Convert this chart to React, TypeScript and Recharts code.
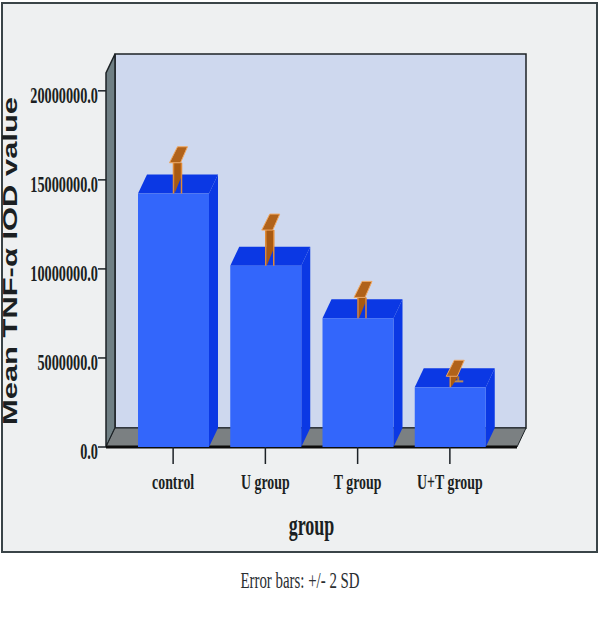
import { BarChart, Bar, XAxis, YAxis, ReferenceArea } from "recharts";

const groups = ["control", "U group", "T group", "U+T group"];
const means = [14230000, 10180000, 7230000, 3350000];
const twoSd = [1730000, 2000000, 1170000, 620000];
const yTicks = [0, 5000000, 10000000, 15000000, 20000000];

const data = groups.map((group, i) => ({ group, mean: means[i], err: twoSd[i] }));

const DX = 9;
const DY = 19;
const AXIS_PAD = 21;

const SERIF = "'Liberation Serif', serif";
const SANS = "'Liberation Sans', sans-serif";

function Walls({ x, y, width, height }: any) {
  // the x axis padding shrinks the area this shape gets, so widen it back
  const left = x - AXIS_PAD;
  const right = x + width + AXIS_PAD;
  const top = y;
  const bottom = y + height;
  return (
    <g>
      <rect x={left + DX} y={top - DY} width={right - left} height={height} fill="#ced8ee" stroke="#1c2226" strokeWidth={1.5} />
      <polygon
        points={`${left},${bottom} ${left},${top} ${left + DX},${top - DY} ${left + DX},${bottom - DY}`}
        fill="#6f7f84"
        stroke="#1c2226"
        strokeWidth={1.5}
      />
      <polygon
        points={`${left},${bottom} ${left + DX},${bottom - DY} ${right + DX},${bottom - DY} ${right},${bottom}`}
        fill="#7b8082"
        stroke="#1c2226"
        strokeWidth={1}
      />
      <line x1={left} x2={right} y1={bottom} y2={bottom} stroke="#0c0c0c" strokeWidth={3} />
    </g>
  );
}

function Bar3D({ x, y, width, height, payload }: any) {
  const pxPerUnit = height / payload.mean;
  const errPx = payload.err * pxPerUnit;
  const cx = x + width / 2;
  const capY = y - errPx;
  const lowY = y + errPx - DY + 2;
  return (
    <g>
      <polygon
        points={`${x},${y} ${x + DX},${y - DY} ${x + width + DX},${y - DY} ${x + width},${y}`}
        fill="#0b38e4"
      />
      <polygon
        points={`${x + width},${y} ${x + width + DX},${y - DY} ${x + width + DX},${y + height - DY} ${x + width},${y + height}`}
        fill="#0b38e4"
      />
      <rect x={x} y={y} width={width} height={height} fill="#3366fb" />
      {lowY < y && (
        <g>
          <line x1={cx + 8} x2={cx + 8} y1={capY} y2={lowY} stroke="#b0753a" strokeWidth={2} />
          <line x1={cx + 3} x2={cx + 13} y1={lowY} y2={lowY} stroke="#b98a58" strokeWidth={2} />
        </g>
      )}
      <polygon
        points={`${cx},${capY} ${cx + 8},${capY} ${cx + 8},${Math.max(capY, y - DY + 2)} ${cx + 1},${y}`}
        fill="#a85a12"
      />
      <line x1={cx} x2={cx} y1={capY} y2={y} stroke="#e08a35" strokeWidth={1.5} />
      {lowY >= y && <line x1={cx + 8} x2={cx + 8} y1={capY} y2={y} stroke="#e08a35" strokeWidth={1.5} />}
      <polygon
        points={`${cx - 4},${capY} ${cx + 7},${capY} ${cx + 14},${capY - DY + 3} ${cx + 4},${capY - DY + 3}`}
        fill="#b0621a"
        stroke="#f0a862"
        strokeWidth={1}
      />
    </g>
  );
}

function YTick({ x, y, payload }: any) {
  const label = payload.value === 0 ? "0.0" : payload.value.toFixed(1);
  return (
    <text
      transform={`translate(${x + 2},${y + 12}) scale(0.62,1)`}
      textAnchor="end"
      fontFamily={SERIF}
      fontWeight={700}
      fontSize={23}
      fill="#1b1f22"
    >
      {label}
    </text>
  );
}

function XTick({ x, y, payload }: any) {
  return (
    <text
      transform={`translate(${x},${y + 23}) scale(0.63,1)`}
      textAnchor="middle"
      fontFamily={SERIF}
      fontWeight={700}
      fontSize={22}
      fill="#1b1f22"
    >
      {payload.value}
    </text>
  );
}

function YLabel() {
  return (
    <text
      transform="translate(17,261) rotate(-90)"
      textAnchor="middle"
      fontFamily={SANS}
      fontWeight={700}
      fontSize={20}
      textLength={328}
      lengthAdjust="spacingAndGlyphs"
      fill="#1b1f22"
    >
      Mean TNF-α IOD value
    </text>
  );
}

function XLabel({ viewBox }: any) {
  return (
    <text
      transform={`translate(${viewBox.x + viewBox.width / 2},535) scale(0.62,1)`}
      textAnchor="middle"
      fontFamily={SERIF}
      fontWeight={700}
      fontSize={29}
      fill="#1b1f22"
    >
      group
    </text>
  );
}

export default function App() {
  return (
    <div style={{ position: "absolute", left: 0, top: 0, width: 600, height: 618, background: "#fff", overflow: "hidden" }}>
      <div
        style={{
          position: "absolute",
          left: 1,
          top: 2,
          width: 593,
          height: 547,
          background: "#eef0f1",
          border: "2px solid #3a4448",
        }}
      />
      <div style={{ position: "absolute", left: 0, top: 0 }}>
        <BarChart
          width={600}
          height={618}
          data={data}
          margin={{ top: 73, right: 83, bottom: 0, left: 0 }}
        >
          <ReferenceArea ifOverflow="visible" shape={<Walls />} />
          <XAxis
            dataKey="group"
            height={171}
            padding={{ left: AXIS_PAD, right: AXIS_PAD }}
            tickLine={{ stroke: "#1c2226", strokeWidth: 1.5 }}
            tickSize={17}
            axisLine={false}
            interval={0}
            tick={<XTick />}
            label={{ content: <XLabel /> }}
          />
          <YAxis
            width={106}
            domain={[0, 21000000]}
            ticks={yTicks}
            tickLine={{ stroke: "#1c2226", strokeWidth: 1.5 }}
            tickSize={8}
            axisLine={false}
            interval={0}
            tick={<YTick />}
            label={{ content: <YLabel /> }}
          />
          <Bar dataKey="mean" barSize={71} shape={<Bar3D />} isAnimationActive={false} />
        </BarChart>
      </div>
      <div
        style={{
          position: "absolute",
          left: 200,
          top: 567,
          width: 200,
          textAlign: "center",
          fontFamily: SERIF,
          fontSize: 24,
          color: "#2a2e31",
          transform: "scaleX(0.62)",
          whiteSpace: "nowrap",
        }}
      >
        Error bars: +/- 2 SD
      </div>
    </div>
  );
}
